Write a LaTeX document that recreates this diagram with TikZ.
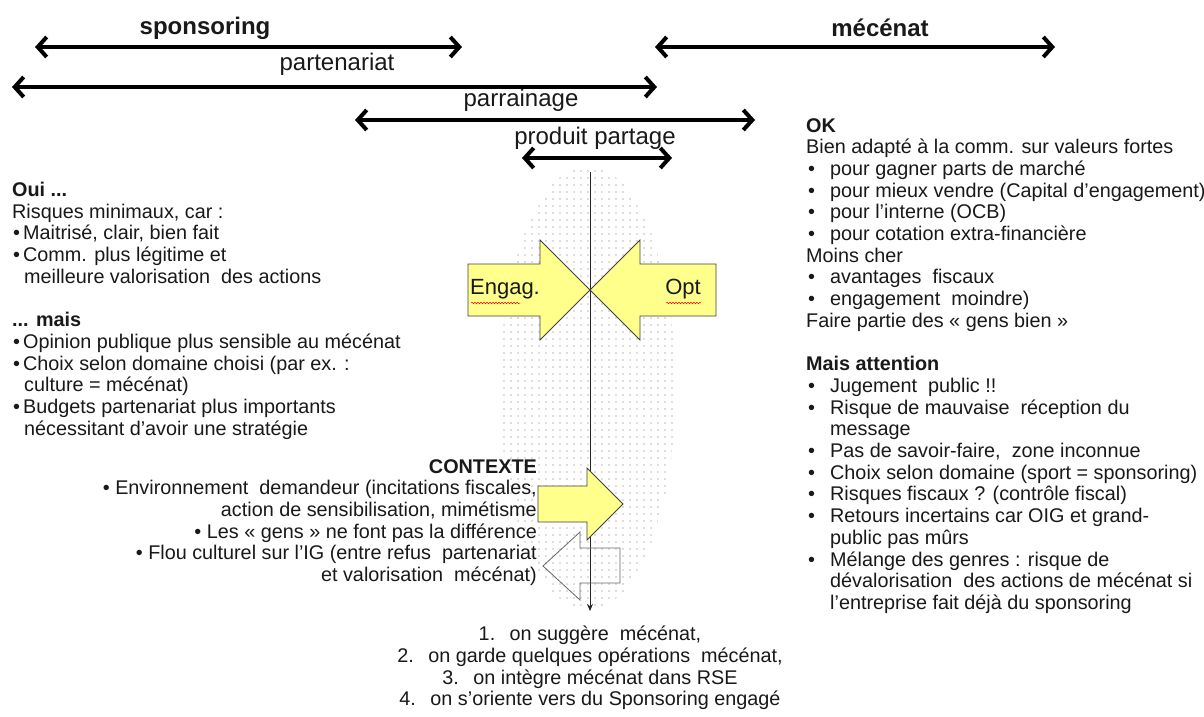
\documentclass[tikz,border=0pt]{standalone}
\usepackage{fontspec}
\setmainfont{Liberation Sans}
\usetikzlibrary{arrows.meta,patterns,decorations.pathmorphing}
\pgfdeclarepatternformonly{sparsedots}{\pgfpoint{-1pt}{-1pt}}{\pgfpoint{1pt}{1pt}}{\pgfpoint{7pt}{7pt}}{\pgfpathcircle{\pgfpoint{0pt}{0pt}}{0.7pt}\pgfusepath{fill}}
\definecolor{arrowyellow}{RGB}{255,255,140}
\definecolor{txt}{RGB}{25,25,25}
\newcommand{\lb}{\makebox[11pt][l]{\hspace*{1pt}•}}
\newcommand{\li}{\hspace*{12pt}}
\newcommand{\rb}{\makebox[24pt][l]{\hspace*{2pt}•}}
\newcommand{\ri}{\hspace*{24pt}}
\newcommand{\nb}[1]{\makebox[31pt][l]{#1}}
\begin{document}
\begin{tikzpicture}[x=1pt,y=-1pt,
  bigarrow/.style={line width=4pt,{Straight Barb[length=9pt,width=20pt]}-{Straight Barb[length=9pt,width=20pt]}},
  lbl/.style={inner sep=0pt,font=\fontsize{24}{28}\selectfont,text=txt},
  blk/.style={inner sep=0pt,align=left,text=txt,font=\fontsize{19.8}{21.7}\selectfont},
  blockarrow/.style={draw=black!75,line width=0.8pt,fill=arrowyellow},
  squiggle/.style={red,line width=0.5pt,decorate,decoration={snake,segment length=3pt,amplitude=0.8pt}}]
\useasboundingbox (0,0) rectangle (1204,717);
\fill[white] (0,0) rectangle (1204,717);

% dotted zone
\fill[pattern=sparsedots,pattern color=black!55] (588,388) ellipse [x radius=88,y radius=222];

% horizontal double arrows
\coordinate (spL) at (35,47);  \coordinate (spR) at (462,47);
\coordinate (meL) at (655,47); \coordinate (meR) at (1055,47);
\coordinate (paL) at (12,87);  \coordinate (paR) at (657,87);
\coordinate (prL) at (355,120);\coordinate (prR) at (755,120);
\coordinate (ppL) at (522,158);\coordinate (ppR) at (672,158);
\draw[bigarrow] (spL) -- (spR);
\draw[bigarrow] (meL) -- (meR);
\draw[bigarrow] (paL) -- (paR);
\draw[bigarrow] (prL) -- (prR);
\draw[bigarrow] (ppL) -- (ppR);
\node[lbl,font=\fontsize{24}{28}\selectfont\bfseries] (sp) at (205,28) {sponsoring};
\node[lbl,font=\fontsize{24}{28}\selectfont\bfseries] (me) at (880,28) {mécénat};
\node[lbl] (pa) at (337,64) {partenariat};
\node[lbl] (pr) at (521,100) {parrainage};
\node[lbl] (pp) at (595,138) {produit partage};

% vertical axis
\coordinate (vtop) at (590,172);
\coordinate (vbot) at (590,611);
\draw[line width=0.9pt,black!85,-{Stealth[length=7pt,width=6pt]}] (vtop) -- (vbot);

% Engag / Opt arrows
\draw[blockarrow] (468,264) -- (540,264) -- (540,240) -- (590,290) -- (540,340) -- (540,316) -- (468,316) -- cycle;
\draw[blockarrow] (716,264) -- (640,264) -- (640,240) -- (590,290) -- (640,340) -- (640,316) -- (716,316) -- cycle;
\node[inner sep=0pt,font=\fontsize{22}{24}\selectfont,text=txt] (engag) at (505,289) {Engag.};
\node[inner sep=0pt,font=\fontsize{22}{24}\selectfont,text=txt] (opt) at (683,289) {Opt};
\draw[squiggle] (471,303) -- (520,303);
\draw[squiggle] (666,303) -- (701,303);

% context arrows
\draw[blockarrow] (538,486) -- (587,486) -- (587,468) -- (623,504) -- (587,540) -- (587,522) -- (538,522) -- cycle;
\draw[draw=black!60,line width=0.8pt] (620,548) -- (580,548) -- (580,532) -- (543,566) -- (580,600) -- (580,583) -- (620,583) -- cycle;

% left block
\node[blk,anchor=north west] (oui) at (12,182) {\textbf{Oui ...}\\
Risques minimaux, car :\\
\lb Maitrisé, clair, bien fait\\
\lb Comm. plus légitime et\\
\li meilleure valorisation\ \ des actions\\[21.7pt]
\textbf{... mais}\\
\lb Opinion publique plus sensible au mécénat\\
\lb Choix selon domaine choisi (par ex. :\\
\li culture = mécénat)\\
\lb Budgets partenariat plus importants\\
\li nécessitant d'avoir une stratégie};

% right block
\node[blk,anchor=north west] (ok) at (806,118) {\textbf{OK}\\
Bien adapté à la comm. sur valeurs fortes\\
\rb pour gagner parts de marché\\
\rb pour mieux vendre (Capital d'engagement)\\
\rb pour l'interne (OCB)\\
\rb pour cotation extra-financière\\
Moins cher\\
\rb avantages\ \ fiscaux\\
\rb engagement\ \ moindre)\\
Faire partie des « gens bien »\\[21.7pt]
\textbf{Mais attention}\\
\rb Jugement\ \ public !!\\
\rb Risque de mauvaise\ \ réception du\\
\ri message\\
\rb Pas de savoir-faire,\ \ zone inconnue\\
\rb Choix selon domaine (sport = sponsoring)\\
\rb Risques fiscaux ? (contrôle fiscal)\\
\rb Retours incertains car OIG et grand-\\
\ri public pas mûrs\\
\rb Mélange des genres : risque de\\
\ri dévalorisation\ \ des actions de mécénat si\\
\ri l'entreprise fait déjà du sponsoring};

% context block
\node[blk,align=right,anchor=north east] (ctx) at (537,459) {\textbf{CONTEXTE}\\
• Environnement\ \ demandeur (incitations fiscales,\\
action de sensibilisation, mimétisme\\
• Les « gens » ne font pas la différence\\
• Flou culturel sur l'IG (entre refus\ \ partenariat\\
et valorisation\ \ mécénat)};

% bottom list
\node[blk,align=center,anchor=north] (steps) at (590,626) {\nb{1.}on suggère\ \ mécénat,\\
\nb{2.}on garde quelques opérations\ \ mécénat,\\
\nb{3.}on intègre mécénat dans RSE\\
\nb{4.}on s'oriente vers du Sponsoring engagé};
\end{tikzpicture}
\end{document}
